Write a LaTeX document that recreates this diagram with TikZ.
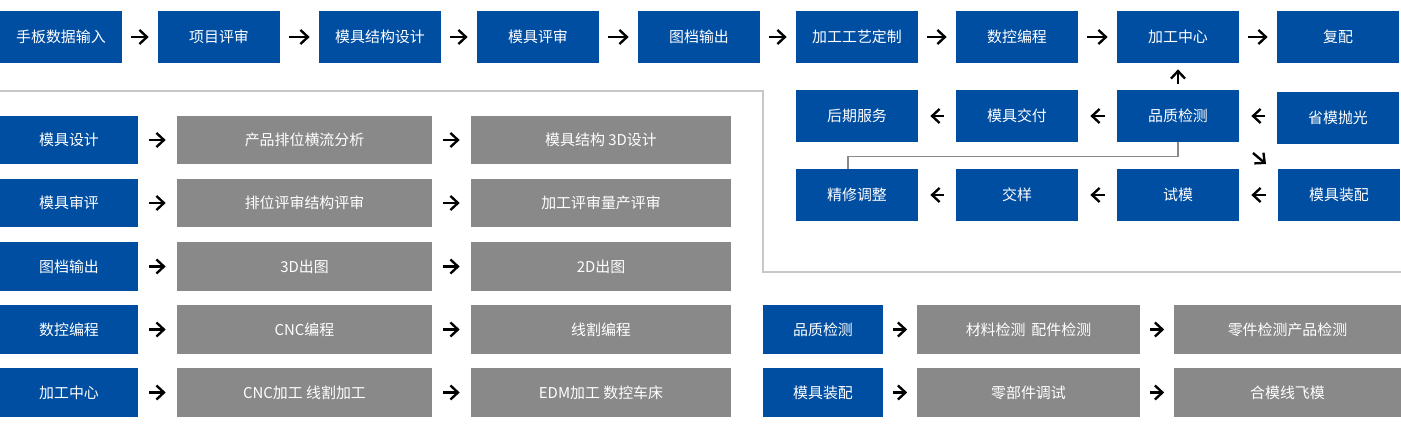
\documentclass[tikz,border=0pt]{standalone}
\usepackage{fontspec}
\newfontfamily\cjk{Noto Sans CJK SC}
\usetikzlibrary{arrows.meta,positioning,calc}
\definecolor{moldblue}{RGB}{0,78,162}
\definecolor{stepgray}{RGB}{137,137,137}
\definecolor{framegray}{RGB}{200,200,200}
\tikzset{
  >={Straight Barb[length=1.5mm,width=2.8mm]},
  blk/.style={fill=moldblue,text=white,inner sep=0pt,minimum width=#1,
    minimum height=1.04cm,font=\cjk\fontsize{8.5}{10}\selectfont},
  blk/.default=2.44cm,
  gry/.style={fill=stepgray,text=white,inner sep=0pt,minimum width=#1,
    minimum height=0.97cm,font=\cjk\fontsize{8.5}{10}\selectfont},
  low/.style={minimum height=0.97cm},
  flow/.style={->,line width=1.35pt,shorten >=#1,shorten <=#1},
  flow/.default=0.22cm,
  link/.style={draw=stepgray,line width=0.6pt},
}
\begin{document}
\begin{tikzpicture}[x=0.02cm,y=-0.02cm]
  \useasboundingbox (0,0) rectangle (1401,429);
  % frame
  \draw[framegray,line width=0.6pt] (0,91) -- (763,91) -- (763,272) -- (1401,272);

  % main line
  \node[blk] (t1) at (61,37) {手板数据输入};
  \node[blk] (t2) at (219,37) {项目评审};
  \node[blk] (t3) at (380,37) {模具结构设计};
  \node[blk] (t4) at (538,37) {模具评审};
  \node[blk] (t5) at (699,37) {图档输出};
  \node[blk] (t6) at (857,37) {加工工艺定制};
  \node[blk] (t7) at (1017,37) {数控编程};
  \node[blk] (t8) at (1178,37) {加工中心};
  \node[blk] (t9) at (1338,37) {复配};
  \foreach \a/\b in {t1/t2,t2/t3,t3/t4,t4/t5,t5/t6,t6/t7,t7/t8,t8/t9}
    \draw[flow=0.18cm] (\a) -- (\b);

  % return line
  \node[blk] (hq) at (857,116) {后期服务};
  \node[blk] (jf) at (1017,116) {模具交付};
  \node[blk] (pj) at (1178,116) {品质检测};
  \node[blk] (sm) at (1338,118) {省模抛光};
  \node[blk] (jx) at (857,195) {精修调整};
  \node[blk] (jy) at (1017,195) {交样};
  \node[blk] (sw) at (1178,195) {试模};
  \node[blk] (mz) at (1339,195) {模具装配};
  \draw[flow=0.24cm] (pj -| sm.west) -- (pj.east);
  \draw[flow=0.24cm] (pj) -- (jf);
  \draw[flow=0.24cm] (jf) -- (hq);
  \draw[flow=0.24cm] (mz) -- (sw);
  \draw[flow=0.24cm] (sw) -- (jy);
  \draw[flow=0.24cm] (jy) -- (jx);
  \draw[flow=0.12cm] (pj) -- (t8);
  \coordinate (dg1) at (1253,153);
  \coordinate (dg2) at (1266,164);
  \draw[flow=0pt] (dg1) -- (dg2);
  \draw[link] (pj.south) -- ++(0,14) -| ([xshift=-0.18cm]jx.north);

  % detail rows
  \foreach \i/\y/\p/\q/\r in {1/140/模具设计/产品排位横流分析/模具结构 3D设计,
      2/203/模具审评/排位评审结构评审/加工评审量产评审,
      3/266.5/图档输出/3D出图/2D出图,
      4/329.5/数控编程/CNC编程/线割编程,
      5/392.5/加工中心/CNC加工 线割加工/EDM加工 数控车床}{
    \node[blk=2.76cm,low] (l\i) at (69,\y) {\p};
    \node[gry=5.1cm] (a\i) at (304.5,\y) {\q};
    \node[gry=5.2cm] (b\i) at (601,\y) {\r};
    \draw[flow] (l\i) -- (a\i);
    \draw[flow] (a\i) -- (b\i);
  }
  \node[blk=2.4cm,low] (q1) at (823,329.5) {品质检测};
  \node[gry=4.46cm] (c1) at (1028.5,329.5) {材料检测\hspace{0.4em}配件检测};
  \node[gry=4.54cm] (d1) at (1287.5,329.5) {零件检测产品检测};
  \node[blk=2.4cm,low] (q2) at (823,392.5) {模具装配};
  \node[gry=4.46cm] (c2) at (1028.5,392.5) {零部件调试};
  \node[gry=4.54cm] (d2) at (1287.5,392.5) {合模线飞模};
  \foreach \i in {1,2}{
    \draw[flow=0.19cm] (q\i) -- (c\i);
    \draw[flow=0.19cm] (c\i) -- (d\i);
  }
\end{tikzpicture}
\end{document}
